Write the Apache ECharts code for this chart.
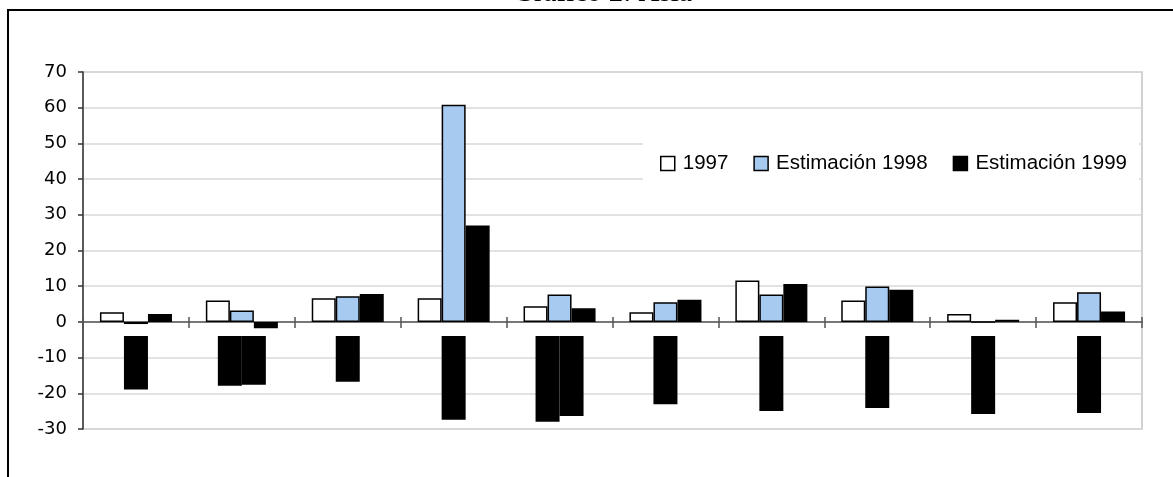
<!DOCTYPE html>
<html>
<head>
<meta charset="utf-8">
<script src="https://cdn.jsdelivr.net/npm/echarts@6/dist/echarts.min.js"></script>
<style>
  html, body { margin: 0; padding: 0; background: #fff; }
  #chart { width: 1173px; height: 477px; }
</style>
</head>
<body>
<div id="chart"></div>
<script>
// Inflación en Asia: 1997 y estimaciones 1998-1999 (%)
const countries = ['China', 'Hong\nKong', 'India', 'Indonesia', 'República\nde Corea',
                   'Malasia', 'Pakistán', 'Filipinas', 'Singapur', 'Tailandia'];
const seriesNames = ['1997', 'Estimación 1998', 'Estimación 1999'];
const values1997 = [2.7, 6.0, 6.6, 6.6, 4.4, 2.7, 11.6, 6.0, 2.2, 5.5];
const values1998 = [-0.6, 3.2, 7.2, 60.8, 7.7, 5.5, 7.7, 9.9, 0, 8.3];
const values1999 = [2.2, -1.8, 7.8, 27.0, 3.8, 6.2, 10.6, 9.0, 0.6, 2.9];
const yTicks = [-30, -20, -10, 0, 10, 20, 30, 40, 50, 60, 70];

const chart = echarts.init(document.getElementById('chart'), null, { renderer: 'canvas' });

const barStyle = (fill) => ({ color: fill, borderColor: '#000', borderWidth: 1.5 });

// Category names hang below the zero line, rotated, each line tagged as a blacked-out box
const labelRich = {
  b: {
    fontFamily: '"Liberation Sans", Arial, sans-serif',
    fontSize: 17.5,
    color: '#000',
    backgroundColor: '#000',
    lineHeight: 24,
    height: 24,
    padding: [0, 4]
  }
};
const labelText = (name) => name.split('\n').map(s => '{b|' + s + '}').join('\n');

function renderCategoryLabel(params, api) {
  const idx = api.value(0);
  const pos = api.coord([idx, 0]);
  return {
    type: 'text',
    x: pos[0],
    y: pos[1] + 14,
    rotation: Math.PI / 2,
    style: {
      text: labelText(countries[idx]),
      rich: labelRich,
      align: 'right',
      verticalAlign: 'middle'
    },
    silent: true
  };
}

chart.setOption({
  animation: false,
  backgroundColor: '#fff',
  title: {
    text: 'Gráfico 2: Asia',
    left: 508,
    top: -26,
    textStyle: { fontFamily: '"Liberation Serif", "Times New Roman", serif', fontSize: 29, fontWeight: 'normal', color: '#000' }
  },
  graphic: [{
    type: 'rect',
    shape: { x: 8, y: 10, width: 1300, height: 600 },
    style: { fill: 'none', stroke: '#000', lineWidth: 2 },
    silent: true, z: 100
  }],
  legend: {
    data: seriesNames,
    left: 643,
    top: 137,
    orient: 'horizontal',
    backgroundColor: '#fff',
    padding: [16, 12, 16, 17],
    itemWidth: 14,
    itemHeight: 14,
    itemGap: 25,
    icon: 'rect',
    itemStyle: { borderColor: '#000', borderWidth: 1.5 },
    textStyle: { fontFamily: '"Liberation Sans", Arial, sans-serif', fontSize: 20.5, color: '#000', padding: [0, 0, 0, 3] },
    z: 20
  },
  grid: {
    left: 83, right: 31, top: 72, bottom: 48,
    outerBoundsMode: 'none',
    containLabel: false,
    show: true, borderColor: '#c4c4c4', borderWidth: 1.5, backgroundColor: 'transparent'
  },
  xAxis: [{
    type: 'category',
    data: countries,
    position: 'bottom',
    boundaryGap: true,
    axisLine: { onZero: true, onZeroAxisIndex: 0, lineStyle: { color: '#777', width: 2 } },
    axisTick: { show: true, length: 6, alignWithLabel: false, lineStyle: { color: '#555', width: 1.5 } },
    axisLabel: { show: false },
    splitLine: { show: false }
  }, {
    type: 'category',
    data: countries,
    position: 'top',
    boundaryGap: true,
    axisLine: { show: false, onZero: true, onZeroAxisIndex: 0 },
    axisTick: { show: true, length: 5, lineStyle: { color: '#555', width: 1.5 } },
    axisLabel: { show: false },
    splitLine: { show: false }
  }],
  yAxis: {
    type: 'value',
    min: yTicks[0],
    max: yTicks[yTicks.length - 1],
    interval: 10,
    axisLine: { show: true, lineStyle: { color: '#333', width: 1.5 } },
    axisTick: { show: true, length: 5, lineStyle: { color: '#333', width: 1.5 } },
    axisLabel: { margin: 16, fontFamily: '"DejaVu Sans", Verdana, sans-serif', fontSize: 18, color: '#000' },
    splitLine: { show: true, lineStyle: { color: '#d9d9d9', width: 1.5 } }
  },
  series: [
    { name: seriesNames[0], type: 'bar', data: values1997, itemStyle: barStyle('#ffffff'),
      barGap: '0%', barCategoryGap: '32%' },
    { name: seriesNames[1], type: 'bar', data: values1998, itemStyle: barStyle('#a6caf0') },
    { name: seriesNames[2], type: 'bar', data: values1999, itemStyle: barStyle('#000000') },
    {
      name: 'categorías', type: 'custom',
      data: countries.map((c, i) => [i, 0]),
      encode: { x: 0, y: 1 },
      renderItem: renderCategoryLabel,
      clip: false, z: 5, silent: true
    }
  ]
});
</script>
</body>
</html>
